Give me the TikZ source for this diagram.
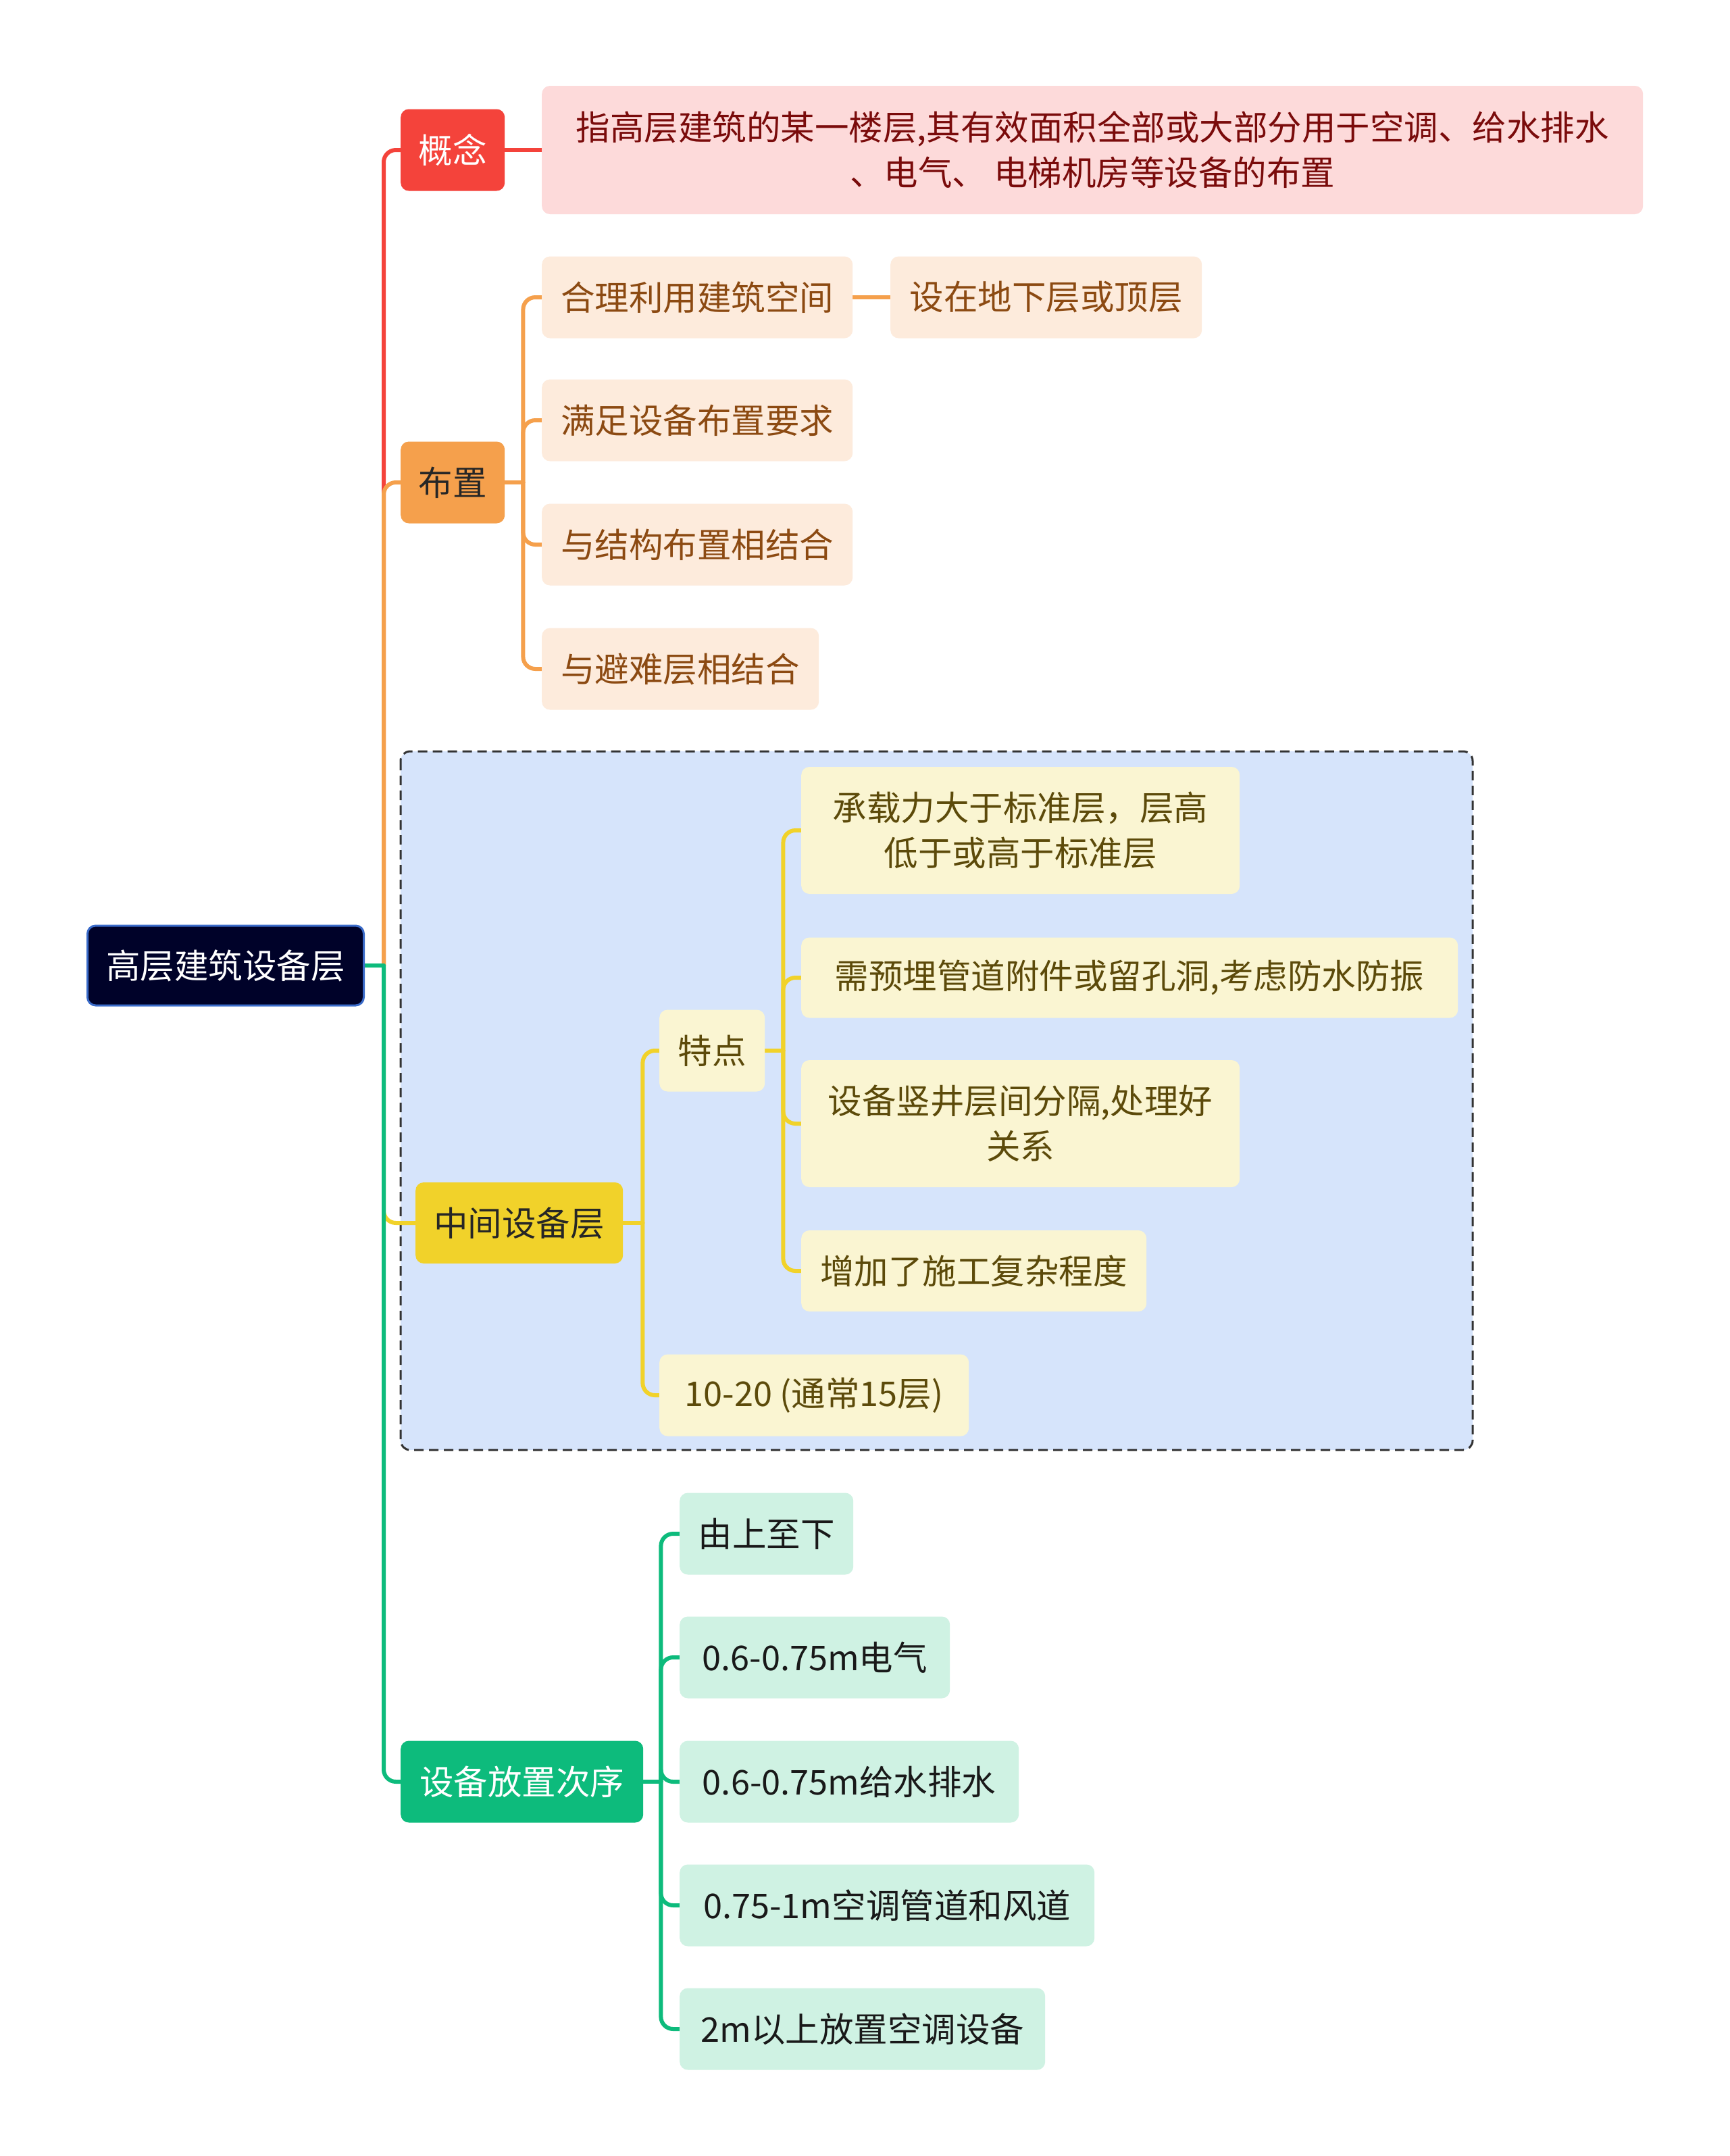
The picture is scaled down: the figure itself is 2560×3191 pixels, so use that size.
\documentclass[tikz,border=0pt]{standalone}
\usepackage{fontspec}
\setmainfont{Noto Sans CJK SC}
\usetikzlibrary{calc}
\pgfdeclarelayer{back}
\pgfdeclarelayer{conn}
\pgfsetlayers{back,conn,main}
\definecolor{cRed}{HTML}{F4433B}
\definecolor{cRedL}{HTML}{FDDADA}
\definecolor{cRedT}{HTML}{7A0B0B}
\definecolor{cOr}{HTML}{F5A04C}
\definecolor{cOrL}{HTML}{FDEBDC}
\definecolor{cOrT}{HTML}{8C4A12}
\definecolor{cYe}{HTML}{F1D22A}
\definecolor{cYeL}{HTML}{FAF5D2}
\definecolor{cYeT}{HTML}{5C4A0A}
\definecolor{cGr}{HTML}{0DBB7C}
\definecolor{cGrL}{HTML}{CFF2E3}
\definecolor{cBoxF}{HTML}{D6E4FB}
\definecolor{cRoot}{HTML}{000229}
\definecolor{cRootB}{HTML}{3A6BC9}
\begin{document}
\begin{tikzpicture}[x=1pt,y=-1pt,
  nd/.style={rounded corners=12pt, inner sep=0pt, anchor=west, align=center,
    font=\fontsize{50.5}{67}\selectfont, minimum height=121pt},
  rootnd/.style={nd, fill=cRoot, draw=cRootB, line width=3pt, text=white, minimum height=118pt},
  redmain/.style={nd, fill=cRed, text=white},
  redsub/.style={nd, fill=cRedL, text=cRedT},
  ormain/.style={nd, fill=cOr, text=black!85},
  orsub/.style={nd, fill=cOrL, text=cOrT},
  yemain/.style={nd, fill=cYe, text=black!85},
  yesub/.style={nd, fill=cYeL, text=cYeT},
  grmain/.style={nd, fill=cGr, text=white},
  grsub/.style={nd, fill=cGrL, text=black!90},
  conn/.style={line width=6pt, line cap=round},
  rc/.style={rounded corners=18pt},
]
\useasboundingbox (0,0) rectangle (2560,3191);

\begin{pgfonlayer}{back}
\fill[white] (0,0) rectangle (2560,3191);
\draw[fill=cBoxF, draw=black!80, line width=3pt, dash pattern=on 14pt off 8pt, rounded corners=14pt]
  (593,1112) rectangle (2180,2146);
\end{pgfonlayer}

% nodes
\node[rootnd, minimum width=409pt] (root) at (128,1429) {高层建筑设备层};

\node[redmain, minimum width=154pt] (gn) at (593,222) {概念};
\node[redsub, minimum width=1630pt, minimum height=190pt] (def) at (802,222)
  {指高层建筑的某一楼层,其有效面积全部或大部分用于空调、给水排水\\、电气、 电梯机房等设备的布置};

\node[ormain, minimum width=154pt] (bz) at (593,714) {布置};
\node[orsub, minimum width=460pt] (bz1) at (802,440) {合理利用建筑空间};
\node[orsub, minimum width=461pt] (bz1a) at (1318,440) {设在地下层或顶层};
\node[orsub, minimum width=460pt] (bz2) at (802,622) {满足设备布置要求};
\node[orsub, minimum width=460pt] (bz3) at (802,806) {与结构布置相结合};
\node[orsub, minimum width=410pt] (bz4) at (802,990) {与避难层相结合};

\node[yemain, minimum width=307pt, minimum height=120pt] (zj) at (615,1810) {中间设备层};
\node[yesub, minimum width=156pt] (td) at (976,1555) {特点};
\node[yesub, minimum width=458pt] (cs) at (976,2065) {10-20 (通常15层)};
\node[yesub, minimum width=649pt, minimum height=188pt] (td1) at (1186,1229) {承载力大于标准层，层高\\低于或高于标准层};
\node[yesub, minimum width=972pt, minimum height=119pt] (td2) at (1186,1447) {需预埋管道附件或留孔洞,考虑防水防振};
\node[yesub, minimum width=649pt, minimum height=188pt] (td3) at (1186,1663) {设备竖井层间分隔,处理好\\关系};
\node[yesub, minimum width=511pt, minimum height=120pt] (td4) at (1186,1881) {增加了施工复杂程度};

\node[grmain, minimum width=359pt] (cx) at (593,2637) {设备放置次序};
\node[grsub, minimum width=257pt] (cx1) at (1006,2270) {由上至下};
\node[grsub, minimum width=400pt] (cx2) at (1006,2453) {0.6-0.75m电气};
\node[grsub, minimum width=502pt] (cx3) at (1006,2637) {0.6-0.75m给水排水};
\node[grsub, minimum width=614pt] (cx4) at (1006,2820) {0.75-1m空调管道和风道};
\node[grsub, minimum width=541pt] (cx5) at (1006,3003) {2m以上放置空调设备};

% connectors
\begin{pgfonlayer}{conn}
\draw[conn, cRed] (root.east) -- ++(28,0);
\draw[conn, cRed, rc] ($(root.east)+(28,0)$) |- (gn.west);
\draw[conn, cRed] (gn.east) -- (def.west);
\draw[conn, cOr] (root.east) -- ++(28,0);
\draw[conn, cOr, rc] ($(root.east)+(28,0)$) |- (bz.west);
\draw[conn, cYe] (root.east) -- ++(28,0);
\draw[conn, cYe, rc] ($(root.east)+(28,0)$) |- (zj.west);
\draw[conn, cGr] (root.east) -- ++(28,0);
\draw[conn, cGr, rc] ($(root.east)+(28,0)$) |- (cx.west);

\draw[conn, cOr] (bz.east) -- ++(27,0);
\foreach \c in {bz1,bz2,bz3,bz4}
  \draw[conn, cOr, rc] ($(bz.east)+(27,0)$) |- (\c.west);
\draw[conn, cOr] (bz1.east) -- (bz1a.west);

\draw[conn, cYe] (zj.east) -- ++(29,0);
\foreach \c in {td,cs}
  \draw[conn, cYe, rc] ($(zj.east)+(29,0)$) |- (\c.west);
\draw[conn, cYe] (td.east) -- ++(27,0);
\foreach \c in {td1,td2,td3,td4}
  \draw[conn, cYe, rc] ($(td.east)+(27,0)$) |- (\c.west);

\draw[conn, cGr] (cx.east) -- ++(26,0);
\foreach \c in {cx1,cx2,cx3,cx4,cx5}
  \draw[conn, cGr, rc] ($(cx.east)+(26,0)$) |- (\c.west);
\end{pgfonlayer}
\end{tikzpicture}
\end{document}
